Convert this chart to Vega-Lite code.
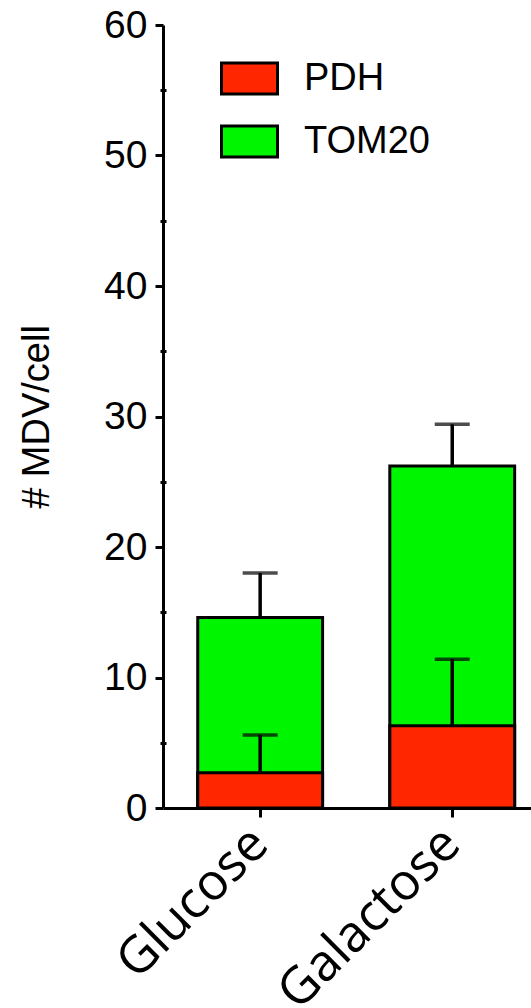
{
  "$schema": "https://vega.github.io/schema/vega-lite/v6.json",
  "width": 368,
  "height": 783,
  "autosize": {"type": "none"},
  "padding": {"left": 163, "top": 25, "right": 0, "bottom": 200},
  "background": "white",
  "config": {"view": {"stroke": null}, "axis": {"grid": false}},
  "data": {
    "values": [
      {"condition": "Glucose", "marker": "TOM20", "mean": 14.6, "upper": 18.0},
      {"condition": "Galactose", "marker": "TOM20", "mean": 26.2, "upper": 29.4},
      {"condition": "Glucose", "marker": "PDH", "mean": 2.7, "upper": 5.6},
      {"condition": "Galactose", "marker": "PDH", "mean": 6.3, "upper": 11.4}
    ]
  },
  "encoding": {
    "x": {
      "field": "condition",
      "type": "nominal",
      "sort": ["Glucose", "Galactose"],
      "scale": {"paddingInner": 0.35, "paddingOuter": 0.133, "align": 0.68},
      "axis": {
        "title": null,
        "labelAngle": -45,
        "labelAlign": "right",
        "labelBaseline": "middle",
        "labelFont": "Open Sans",
        "labelFontSize": 51,
        "labelColor": "black",
        "labelPadding": 19,
        "labelLimit": 0,
        "tickSize": 9,
        "tickWidth": 3,
        "tickColor": "black",
        "domainWidth": 3,
        "domainColor": "black"
      }
    }
  },
  "layer": [
    {
      "mark": {"type": "bar", "stroke": "black", "strokeWidth": 3},
      "encoding": {
        "y": {
          "field": "mean",
          "type": "quantitative",
          "stack": null,
          "scale": {"domain": [0, 60]},
          "axis": {
            "values": [0, 10, 20, 30, 40, 50, 60],
            "title": "# MDV/cell",
            "titleFont": "Liberation Sans",
            "titleFontSize": 38,
            "titleFontWeight": "normal",
            "titleColor": "black",
            "titlePadding": 47,
            "labelFont": "Liberation Sans",
            "labelFontSize": 39,
            "labelColor": "black",
            "labelPadding": 8,
            "tickSize": 8,
            "tickWidth": 3,
            "tickColor": "black",
            "domainWidth": 3,
            "domainColor": "black"
          }
        },
        "color": {
          "field": "marker",
          "type": "nominal",
          "scale": {"domain": ["PDH", "TOM20"], "range": ["#ff2600", "#00f500"]},
          "legend": {
            "orient": "none",
            "legendX": 57,
            "legendY": 24,
            "title": null,
            "padding": 0,
            "labelFont": "Liberation Sans",
            "labelFontSize": 38,
            "labelColor": "black",
            "labelOffset": 25,
            "rowPadding": 12,
            "symbolType": "M-1,-0.55H1V0.55H-1Z",
            "symbolSize": 3136,
            "symbolStrokeColor": "black",
            "symbolStrokeWidth": 3,
            "symbolOpacity": 1
          }
        }
      }
    },
    {
      "mark": {"type": "rule", "strokeWidth": 3.5, "color": "black"},
      "encoding": {
        "y": {
          "field": "mean",
          "type": "quantitative",
          "axis": {
            "orient": "left",
            "values": [5, 15, 25, 35, 45, 55],
            "labels": false,
            "domain": false,
            "title": null,
            "tickSize": 6,
            "tickWidth": 3,
            "tickColor": "black",
            "offset": -3
          }
        },
        "y2": {"field": "upper"}
      }
    },
    {
      "mark": {"type": "tick", "thickness": 3.5, "size": 35, "color": "black"},
      "encoding": {
        "y": {"field": "upper", "type": "quantitative", "axis": null}
      }
    }
  ],
  "resolve": {"axis": {"y": "independent"}}
}
